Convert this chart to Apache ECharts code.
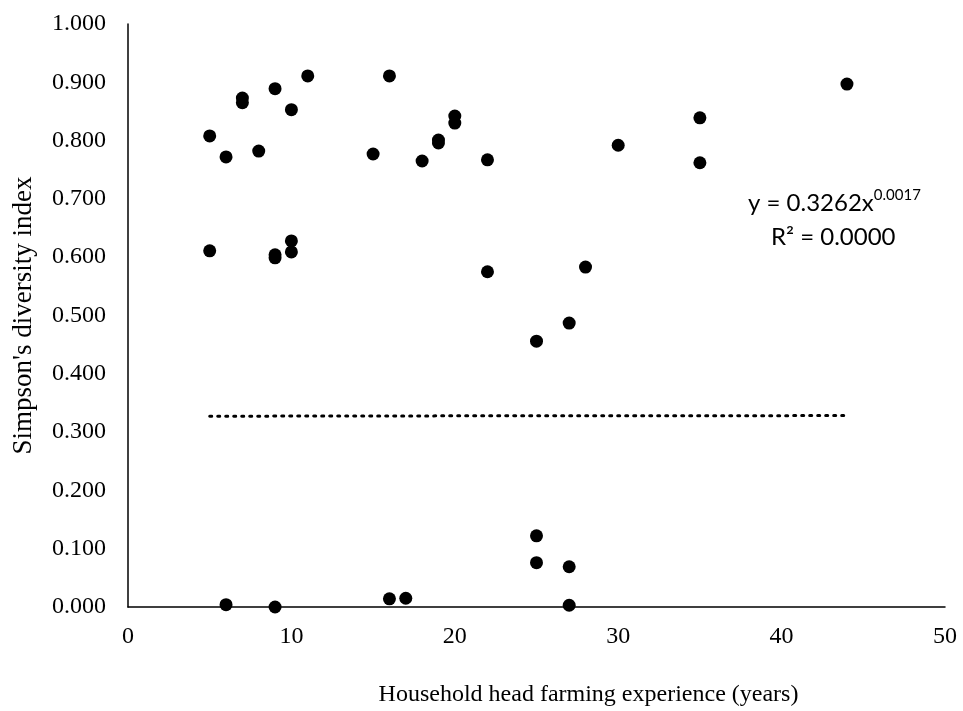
<!DOCTYPE html>
<html>
<head>
<meta charset="utf-8">
<script src="https://cdn.jsdelivr.net/npm/echarts@6/dist/echarts.min.js"></script>
<style>html,body{margin:0;padding:0;background:#fff;}#main{width:963px;height:711px;}</style>
</head>
<body>
<div id="main"></div>
<script>
// Household head farming experience (years)
var experience = [5, 6, 7, 7, 8, 9, 10, 11, 15, 16, 18, 19, 19, 20, 20, 22, 30, 35, 35, 44,
                  5, 9, 9, 10, 10, 22, 28, 27, 25, 25, 25, 27, 6, 9, 16, 17, 27];
// Simpson's diversity index
var simpson = [0.808, 0.772, 0.873, 0.865, 0.782, 0.889, 0.853, 0.911, 0.777, 0.911, 0.765, 0.801, 0.796, 0.842, 0.830, 0.767, 0.792, 0.839, 0.762, 0.897,
               0.611, 0.604, 0.599, 0.628, 0.609, 0.575, 0.583, 0.487, 0.456, 0.122, 0.076, 0.069, 0.004, 0.000, 0.014, 0.015, 0.003];
// Power trendline as labelled: y = a * x^b, drawn over the data's x range
var trendA = 0.3262;
var trendB = 0.0017;
var trendRangeX = [5, 44];
var xTicks = [0, 10, 20, 30, 40, 50];
var yTicks = [0, 0.1, 0.2, 0.3, 0.4, 0.5, 0.6, 0.7, 0.8, 0.9, 1.0];

var points = experience.map(function (x, i) { return [x, simpson[i]]; });
var trend = [];
for (var x = trendRangeX[0]; x <= trendRangeX[1]; x += 1) {
  trend.push([x, trendA * Math.pow(x, trendB)]);
}

var chart = echarts.init(document.getElementById('main'));
var serif = 'Liberation Serif, Times New Roman, serif';
chart.setOption({
  animation: false,
  backgroundColor: '#ffffff',
  grid: { left: 128, right: 18, top: 24, bottom: 104, containLabel: false, outerBoundsMode: 'none' },
  xAxis: {
    type: 'value', min: xTicks[0], max: xTicks[xTicks.length - 1], interval: 10,
    axisLine: { lineStyle: { color: '#000', width: 1.5 } },
    axisTick: { show: false },
    splitLine: { show: false },
    axisLabel: { color: '#000', fontFamily: serif, fontSize: 24, margin: 18 },
    name: 'Household head farming experience (years)',
    nameLocation: 'middle', nameGap: 76,
    nameTextStyle: { color: '#000', fontFamily: serif, fontSize: 24, padding: [0, 0, 0, 104] }
  },
  yAxis: {
    type: 'value', min: yTicks[0], max: yTicks[yTicks.length - 1], interval: 0.1,
    axisLine: { show: true, lineStyle: { color: '#000', width: 1.5 } },
    axisTick: { show: false },
    splitLine: { show: false },
    axisLabel: { color: '#000', fontFamily: serif, fontSize: 24, margin: 22,
      formatter: function (v) { return v.toFixed(3); } },
    name: "Simpson's diversity index",
    nameLocation: 'middle', nameGap: 91,
    nameTextStyle: { color: '#000', fontFamily: serif, fontSize: 27 }
  },
  series: [
    {
      type: 'scatter', data: points, symbol: 'circle', symbolSize: 13,
      itemStyle: { color: '#000', opacity: 1 }, z: 3
    },
    {
      type: 'line', data: trend, showSymbol: false, smooth: false,
      lineStyle: { color: '#000', width: 3, type: [2, 6], cap: 'round' }, z: 2
    }
  ],
  graphic: [
    {
      type: 'text', left: 748, top: 188,
      style: {
        text: '{b|y = 0.3262x}{s|0.0017}',
        rich: {
          b: { fontFamily: 'Lato, sans-serif', fontSize: 24, fill: '#000', verticalAlign: 'bottom' },
          s: { fontFamily: 'Lato, sans-serif', fontSize: 15, fill: '#000', verticalAlign: 'top', padding: [0, 0, 12, 0] }
        }
      }
    },
    {
      type: 'text', left: 771, top: 225,
      style: { text: 'R² = 0.0000', fontFamily: 'Lato, sans-serif', fontSize: 24, fill: '#000' }
    }
  ]
});
</script>
</body>
</html>
